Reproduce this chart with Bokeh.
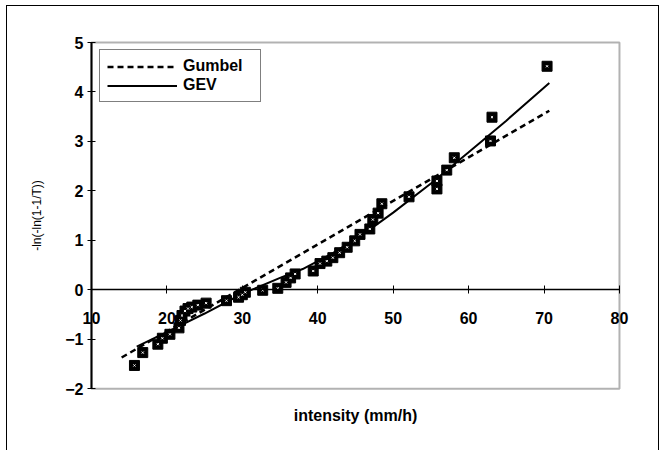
from bokeh.plotting import figure
from bokeh.models import (LinearAxis, FixedTicker, Legend, LegendItem, Range1d, BoxAnnotation)
from bokeh.embed import file_html
from bokeh.resources import INLINE

# observed data (intensity mm/h vs reduced variate)
intensity = [15.7, 16.8, 18.8, 19.4, 20.4, 21.6, 21.8, 22.0, 22.4, 22.8, 23.3, 24.1, 25.2,
             27.9, 29.5, 30.0, 30.4, 32.7, 34.7, 35.8, 36.4, 37.0, 39.4, 40.3, 41.2, 42.0,
             42.9, 43.9, 44.9, 45.6, 46.9, 47.3, 48.0, 48.5, 52.1, 55.8, 55.8, 57.1, 58.1,
             62.9, 63.1, 70.4]
reduced = [-1.53, -1.27, -1.10, -0.98, -0.90, -0.77, -0.62, -0.52, -0.43, -0.38, -0.35, -0.31, -0.27,
           -0.22, -0.15, -0.10, -0.05, -0.01, 0.03, 0.15, 0.24, 0.32, 0.38, 0.53, 0.58, 0.65,
           0.75, 0.86, 0.99, 1.12, 1.23, 1.42, 1.55, 1.74, 1.88, 2.04, 2.20, 2.42, 2.67,
           3.01, 3.49, 4.52]

# fitted Gumbel (straight line)
gumbel_x = [14.0, 70.7]
gumbel_y = [-1.37, 3.62]

# fitted GEV (curve)
gev_x = [16.0, 21.0, 25.0, 30.0, 35.0, 38.0, 42.0, 46.0, 50.0, 55.0, 60.0, 65.0, 70.7]
gev_y = [-1.15, -0.78, -0.48, -0.08, 0.24, 0.42, 0.74, 1.12, 1.56, 2.15, 2.78, 3.42, 4.18]

x_ticks = [10, 20, 30, 40, 50, 60, 70, 80]
y_ticks = [-2, -1, 0, 1, 2, 3, 4, 5]

FONT = "Liberation Sans"
FS = "16px"

# the frame covers the whole canvas; the plotted box 10..80 x -2..5 sits inside it
p = figure(width=664, height=450, output_backend="svg", toolbar_location=None,
           x_range=Range1d(-2.06, 85.97), y_range=Range1d(-3.25, 5.85),
           x_axis_location=None, y_axis_location=None,
           min_border_left=0, min_border_right=0, min_border_top=0, min_border_bottom=0)
p.grid.visible = False
p.outline_line_color = None
p.background_fill_color = None
p.border_fill_color = None
p.styles = {
    "background": ("linear-gradient(#000,#000) 6px 5px / 1px 445px no-repeat, "
                   "linear-gradient(#000,#000) 6px 5px / 653px 1px no-repeat, "
                   "linear-gradient(#000,#000) 658px 5px / 1px 445px no-repeat, #fff"),
}

# plot box
p.add_layout(BoxAnnotation(left=x_ticks[0], right=x_ticks[-1], bottom=y_ticks[0], top=y_ticks[-1],
                           fill_color=None, line_color="black", line_width=2, level="underlay"))

# x axis crossing at y = 0
xa = LinearAxis(fixed_location=0, bounds=(x_ticks[0], x_ticks[-1]),
                ticker=FixedTicker(ticks=x_ticks))
xa.axis_line_width = 1.5
xa.major_tick_in = 4
xa.major_tick_out = 4
xa.minor_tick_line_color = None
xa.major_label_standoff = 18
xa.major_label_text_font = FONT
xa.major_label_text_font_style = "bold"
xa.major_label_text_font_size = FS
xa.major_label_text_color = "black"
xa.axis_label = "intensity (mm/h)"
xa.axis_label_standoff = 80
xa.axis_label_text_font = FONT
xa.axis_label_text_font_style = "bold"
xa.axis_label_text_font_size = FS
xa.axis_label_text_color = "black"
p.add_layout(xa, "below")

ya = LinearAxis(fixed_location=x_ticks[0], bounds=(y_ticks[0], y_ticks[-1]),
                ticker=FixedTicker(ticks=y_ticks))
ya.axis_line_width = 2
ya.major_tick_in = 4
ya.major_tick_out = 4
ya.minor_tick_line_color = None
ya.major_label_standoff = 4
ya.major_label_text_font = FONT
ya.major_label_text_font_style = "bold"
ya.major_label_text_font_size = FS
ya.major_label_text_color = "black"
ya.axis_label = "-ln(-ln(1-1/T))"
ya.axis_label_standoff = 18
ya.axis_label_text_font = FONT
ya.axis_label_text_font_style = "normal"
ya.axis_label_text_font_size = "12px"
ya.axis_label_text_color = "black"
p.add_layout(ya, "left")

r_g = p.line(gumbel_x, gumbel_y, line_color="black", line_width=2.5, line_dash="6 4")
r_gev = p.line(gev_x, gev_y, line_color="black", line_width=2)
p.scatter(intensity, reduced, marker="square", size=10, fill_color="black", line_color="black")
p.scatter(intensity, reduced, marker="x", size=3, line_color="white", line_width=1)

legend = Legend(items=[LegendItem(label="Gumbel", renderers=[r_g]),
                       LegendItem(label="GEV", renderers=[r_gev])],
                location=(99, 348), margin=0, padding=7, spacing=1,
                glyph_width=70, glyph_height=15, label_standoff=6, label_height=15,
                label_width=70, background_fill_color="white", background_fill_alpha=1,
                border_line_color="black", border_line_width=1,
                label_text_font=FONT, label_text_font_style="bold",
                label_text_font_size=FS, label_text_color="black")
p.add_layout(legend)

open("out.html", "w").write(file_html(p, INLINE))
